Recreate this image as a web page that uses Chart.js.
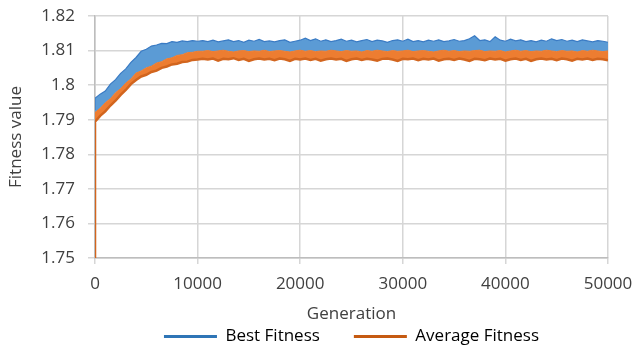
<!DOCTYPE html>
<html>
<head>
<meta charset="utf-8">
<script src="https://cdn.jsdelivr.net/npm/chart.js@4"></script>
<style>
  html, body { margin: 0; padding: 0; background: #fff; }
  #wrap { width: 635px; height: 348px; position: relative; }
</style>
</head>
<body>
<div id="wrap"><canvas id="fitnessChart"></canvas></div>
<script>
// generations: the very first one, then every 500
const gens = [0, 1];
for (let g = 500; g <= 50000; g += 500) gens.push(g);

// upper edge of the Best Fitness band
const bestFitness = [
  1.7930, 1.7962, 1.7974, 1.7983, 1.8003, 1.8016, 1.8034, 1.8047, 1.8066, 1.8080,
  1.8098, 1.8104, 1.8113, 1.8116, 1.8121, 1.8120, 1.8126, 1.8124, 1.8128, 1.8126,
  1.8129, 1.8127,
  1.8129, 1.8126, 1.8130, 1.8125, 1.8128, 1.8131, 1.8126, 1.8129, 1.8124, 1.8130,
  1.8127, 1.8132, 1.8126, 1.8128, 1.8125, 1.8129, 1.8131, 1.8124, 1.8127, 1.8130,
  1.8136, 1.8129, 1.8134, 1.8127, 1.8131, 1.8126, 1.8129, 1.8133, 1.8127, 1.8130,
  1.8125, 1.8129, 1.8132, 1.8126, 1.8130, 1.8128, 1.8124, 1.8129, 1.8131, 1.8127,
  1.8133, 1.8126, 1.8129, 1.8125, 1.8130, 1.8127, 1.8131, 1.8126, 1.8128, 1.8132,
  1.8127, 1.8129, 1.8134, 1.8143, 1.8129, 1.8131, 1.8126, 1.8140, 1.8130, 1.8127,
  1.8133, 1.8128, 1.8131, 1.8126, 1.8129, 1.8125, 1.8130, 1.8127, 1.8134, 1.8129,
  1.8132, 1.8127, 1.8130, 1.8126, 1.8131, 1.8128, 1.8125, 1.8129, 1.8127, 1.8124
];

// Average Fitness band: upper and lower edge
const avgFitnessHigh = [
  1.7500, 1.7921, 1.7933, 1.7949, 1.7961, 1.7978, 1.7990, 1.8006, 1.8018, 1.8035,
  1.8041, 1.8050, 1.8055, 1.8064, 1.8068, 1.8076, 1.8079, 1.8086, 1.8088, 1.8094,
  1.8095, 1.8098,
  1.8098, 1.8100, 1.8097, 1.8099, 1.8101, 1.8098, 1.8096, 1.8099, 1.8100, 1.8097,
  1.8099, 1.8098, 1.8101, 1.8097, 1.8099, 1.8100, 1.8098, 1.8096, 1.8099, 1.8101,
  1.8098, 1.8100, 1.8097, 1.8099, 1.8098, 1.8101, 1.8099, 1.8097, 1.8100, 1.8098,
  1.8099, 1.8096, 1.8100, 1.8098, 1.8101, 1.8099, 1.8097, 1.8100, 1.8098, 1.8099,
  1.8101, 1.8097, 1.8099, 1.8100, 1.8098, 1.8096, 1.8099, 1.8101, 1.8098, 1.8100,
  1.8097, 1.8099, 1.8098, 1.8100, 1.8101, 1.8097, 1.8099, 1.8098, 1.8100, 1.8096,
  1.8099, 1.8101, 1.8098, 1.8100, 1.8097, 1.8099, 1.8098, 1.8101, 1.8099, 1.8097,
  1.8100, 1.8098, 1.8099, 1.8096, 1.8100, 1.8098, 1.8101, 1.8099, 1.8097, 1.8099
];
const avgFitnessLow = [
  1.7500, 1.7894, 1.7911, 1.7924, 1.7941, 1.7955, 1.7972, 1.7986, 1.8003, 1.8015,
  1.8025, 1.8030, 1.8038, 1.8042, 1.8050, 1.8054, 1.8060, 1.8062, 1.8067, 1.8068,
  1.8073, 1.8074,
  1.8076, 1.8074, 1.8077, 1.8071, 1.8076, 1.8075, 1.8078, 1.8073, 1.8076, 1.8070,
  1.8075, 1.8077, 1.8074, 1.8076, 1.8072, 1.8077, 1.8075, 1.8070, 1.8076, 1.8074,
  1.8077, 1.8073, 1.8076, 1.8071, 1.8075, 1.8077, 1.8074, 1.8076, 1.8070, 1.8075,
  1.8077, 1.8073, 1.8076, 1.8074, 1.8071, 1.8076, 1.8077, 1.8074, 1.8070, 1.8076,
  1.8075, 1.8077, 1.8072, 1.8076, 1.8074, 1.8077, 1.8071, 1.8075, 1.8076, 1.8073,
  1.8077, 1.8074, 1.8070, 1.8076, 1.8075, 1.8072, 1.8077, 1.8074, 1.8076, 1.8071,
  1.8075, 1.8077, 1.8073, 1.8076, 1.8070, 1.8075, 1.8077, 1.8074, 1.8076, 1.8072,
  1.8077, 1.8075, 1.8071, 1.8076, 1.8074, 1.8077, 1.8073, 1.8076, 1.8075, 1.8072
];

const seriesNames = ['Best Fitness', 'Average Fitness'];
const legendColors = ['#2E75B6', '#C55A11'];

const toPoints = arr => arr.map((y, i) => ({ x: gens[i], y: y }));

Chart.defaults.font.family = "'Open Sans', sans-serif";
Chart.defaults.font.size = 17;
Chart.defaults.color = '#404040';

const ctx = document.getElementById('fitnessChart').getContext('2d');
new Chart(ctx, {
  type: 'line',
  data: {
    datasets: [
      {
        label: seriesNames[0],
        data: toPoints(bestFitness),
        borderColor: '#3A7BC4',
        borderWidth: 1.2,
        backgroundColor: '#5B9BD5',
        fill: '+1',
        pointRadius: 0,
        tension: 0,
        order: 3
      },
      {
        label: seriesNames[1],
        data: toPoints(avgFitnessHigh),
        borderColor: '#ED7D31',
        borderWidth: 1,
        backgroundColor: '#ED7D31',
        fill: '+1',
        pointRadius: 0,
        tension: 0,
        order: 2
      },
      {
        label: '',
        data: toPoints(avgFitnessLow),
        borderColor: '#D2651E',
        borderWidth: 2.5,
        fill: false,
        pointRadius: 0,
        tension: 0,
        order: 1
      }
    ]
  },
  options: {
    responsive: true,
    maintainAspectRatio: false,
    animation: false,
    events: [],
    layout: { padding: { top: 16, right: 27, bottom: 0, left: 0 } },
    plugins: {
      tooltip: { enabled: false },
      legend: {
        position: 'bottom',
        fullSize: false,
        maxHeight: 54,
        labels: {
          boxWidth: 53,
          boxHeight: 3,
          padding: 34,
          color: '#404040',
          generateLabels: () => seriesNames.map((name, i) => ({
            text: name,
            fillStyle: legendColors[i],
            strokeStyle: legendColors[i],
            lineWidth: 0,
            datasetIndex: i
          }))
        }
      }
    },
    scales: {
      x: {
        type: 'linear',
        min: 0,
        max: 50000,
        afterFit: s => { s.height = 36; s.paddingLeft = 0; s.paddingRight = 0; },
        ticks: {
          stepSize: 10000,
          padding: 10,
          maxRotation: 0,
          callback: v => String(v)
        },
        grid: { color: '#D6D6D6', lineWidth: 1.5, tickLength: 6 },
        border: { color: '#BDBDBD', width: 1.5 },
        title: { display: true, text: 'Generation', padding: { top: 0, bottom: -30 } }
      },
      y: {
        min: 1.75,
        max: 1.82,
        afterFit: s => { s.width = 95; s.paddingTop = 0; s.paddingBottom = 0; },
        ticks: {
          stepSize: 0.01,
          padding: 13,
          callback: v => String(+v.toFixed(2))
        },
        grid: { color: '#D6D6D6', lineWidth: 1.5, tickLength: 7 },
        border: { color: '#BDBDBD', width: 1.5 },
        title: { display: true, text: 'Fitness value', padding: { top: 6, bottom: 0 } }
      }
    }
  }
});
</script>
</body>
</html>
